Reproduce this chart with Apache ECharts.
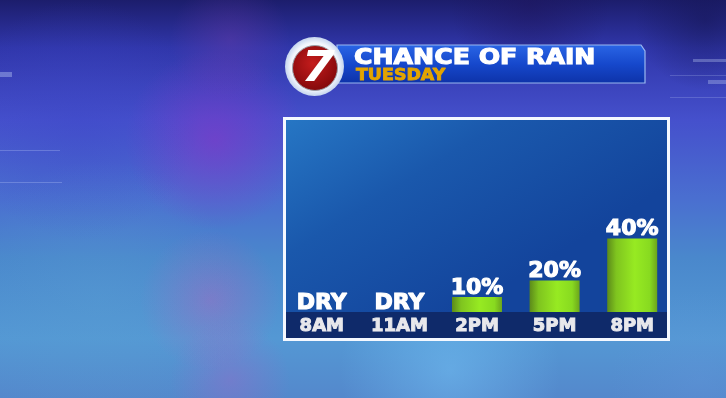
<!DOCTYPE html>
<html>
<head>
<meta charset="utf-8">
<script src="https://cdn.jsdelivr.net/npm/echarts@6/dist/echarts.min.js"></script>
<style>
html,body{margin:0;padding:0;background:#3a50c0;}
#c{width:726px;height:398px;}
</style>
</head>
<body>
<div id="c"></div>
<script>
// ---- data ----
var categories = ['8AM', '11AM', '2PM', '5PM', '8PM'];
var rainChance = [0, 0, 10, 20, 40];          // printed value (%)
var barLevel   = [0, 0, 10, 21, 49];          // drawn bar height
var titleText = 'CHANCE OF RAIN';
var subtitleText = 'TUESDAY';

var chart = echarts.init(document.getElementById('c'), null, {renderer: 'canvas'});
var G = echarts.graphic;
var FONT = 'DejaVu Sans';

function blob(cx, cy, r, color) {
  return {
    type: 'circle', shape: {cx: cx, cy: cy, r: r}, silent: true,
    style: {fill: new G.RadialGradient(0.5, 0.5, 0.5, [
      {offset: 0, color: color}, {offset: 1, color: color.replace(/[\d.]+\)$/, '0)')}
    ])}
  };
}
function hline(x, y, w, h, a) {
  return {type: 'rect', shape: {x: x, y: y, width: w, height: h}, silent: true,
    style: {fill: 'rgba(210,225,255,' + a + ')'}};
}

var barGrad = new G.LinearGradient(0, 0, 1, 0, [
  {offset: 0, color: '#5c8a1a'},
  {offset: 0.18, color: '#7fc41f'},
  {offset: 0.55, color: '#97ea22'},
  {offset: 0.85, color: '#88da20'},
  {offset: 1, color: '#6ca51c'}
]);

var option = {
  animation: false,
  backgroundColor: 'transparent',
  graphic: {
    elements: [
      // background
      {type: 'rect', shape: {x: 0, y: 0, width: 726, height: 398}, silent: true, z: -10,
        style: {fill: new G.LinearGradient(0, 0, 0, 1, [
          {offset: 0, color: '#1c1d6c'},
          {offset: 0.12, color: '#3036aa'},
          {offset: 0.3, color: '#4550cc'},
          {offset: 0.5, color: '#4a6fd0'},
          {offset: 0.65, color: '#4a88cc'},
          {offset: 0.85, color: '#5498d4'},
          {offset: 1, color: '#5488cc'}
        ])}},
      blob(215, 140, 90, 'rgba(140,50,200,0.55)'),
      blob(230, 40, 60, 'rgba(120,60,170,0.35)'),
      blob(80, 120, 120, 'rgba(60,70,200,0.35)'),
      blob(210, 300, 70, 'rgba(190,90,190,0.4)'),
      blob(230, 380, 60, 'rgba(180,90,200,0.3)'),
      blob(450, 370, 110, 'rgba(120,200,250,0.45)'),
      blob(100, 300, 140, 'rgba(90,160,210,0.3)'),
      blob(700, 380, 90, 'rgba(100,150,220,0.3)'),
      blob(530, 5, 80, 'rgba(30,20,90,0.5)'),
      blob(705, 20, 70, 'rgba(20,20,80,0.5)'),
      // faint hud lines
      hline(0, 72, 12, 5, 0.35),
      hline(0, 150, 60, 1, 0.25),
      hline(0, 182, 62, 1, 0.25),
      hline(693, 59, 33, 3, 0.3),
      hline(708, 80, 18, 4, 0.3),
      hline(670, 75, 56, 1, 0.2),
      hline(670, 97, 56, 1, 0.2),
      // header bar
      {type: 'polygon', silent: true,
        shape: {points: [[337, 45], [641, 45], [645, 51], [645, 83], [337, 83]]},
        style: {fill: new G.LinearGradient(0, 0, 0, 1, [
          {offset: 0, color: '#2a66e6'},
          {offset: 0.5, color: '#1648cc'},
          {offset: 1, color: '#0d32a8'}
        ]), stroke: '#9ab8f0', lineWidth: 1.2}},
      {type: 'text', x: 354, y: 58.5, scaleX: 1.2, silent: true,
        style: {text: titleText, fill: '#ffffff', font: 'bold 21px "DejaVu Sans"',
          stroke: '#ffffff', lineWidth: 1.1,
          textAlign: 'left', textVerticalAlign: 'middle'}},
      {type: 'text', x: 356, y: 76, scaleX: 1.16, silent: true,
        style: {text: subtitleText, fill: '#e3a400', font: 'bold 15px "DejaVu Sans"',
          stroke: '#e3a400', lineWidth: 0.8,
          textAlign: 'left', textVerticalAlign: 'middle'}},
      // logo
      {type: 'circle', shape: {cx: 314.5, cy: 66.5, r: 29.5}, silent: true,
        style: {fill: new G.RadialGradient(0.5, 0.5, 0.5, [
          {offset: 0, color: '#ffffff'}, {offset: 0.8, color: '#f2f6fc'}, {offset: 1, color: '#c4d4ee'}
        ])}},
      {type: 'circle', shape: {cx: 315, cy: 68, r: 22.5}, silent: true,
        style: {fill: new G.RadialGradient(0.45, 0.4, 0.6, [
          {offset: 0, color: '#c41c1c'}, {offset: 1, color: '#84090b'}
        ]), stroke: '#9aa0a8', lineWidth: 1}},
      {type: 'text', x: 318, y: 70, scaleX: 1.15, silent: true,
        style: {text: '7', fill: '#ffffff', font: 'italic bold 42px "DejaVu Sans"',
          textAlign: 'center', textVerticalAlign: 'middle'}},
      // chart panel
      {type: 'rect', shape: {x: 283, y: 117, width: 387, height: 224}, silent: true,
        style: {fill: '#f4f8ff'}},
      {type: 'rect', shape: {x: 286, y: 120, width: 381, height: 218}, silent: true,
        style: {fill: new G.LinearGradient(0, 0, 0.35, 1, [
          {offset: 0, color: '#2676c4'},
          {offset: 0.45, color: '#1a58ac'},
          {offset: 1, color: '#13449c'}
        ])}},
      {type: 'rect', shape: {x: 286, y: 312, width: 381, height: 26}, silent: true,
        style: {fill: '#0f2a6a'}}
    ]
  },
  grid: {left: 283, width: 388, top: 120, bottom: 86, containLabel: false},
  xAxis: {
    type: 'category', data: categories,
    axisLine: {show: false}, axisTick: {show: false}, splitLine: {show: false},
    axisLabel: {color: '#e8e8ec', fontSize: 18, fontWeight: 'bold', fontFamily: FONT, margin: 5,
      lineHeight: 18, textBorderColor: '#e8e8ec', textBorderWidth: 1}
  },
  yAxis: {type: 'value', min: 0, max: 128, show: false, splitLine: {show: false}},
  series: [{
    type: 'bar', data: barLevel, barWidth: 50, z: 5,
    itemStyle: {color: barGrad},
    label: {
      show: true, position: 'top', distance: -2,
      color: '#ffffff', fontSize: 22, fontWeight: 'bold', fontFamily: FONT,
      textBorderColor: '#ffffff', textBorderWidth: 1.2,
      formatter: function (p) {
        var v = rainChance[p.dataIndex];
        return v === 0 ? 'DRY' : v + '%';
      }
    }
  }]
};
chart.setOption(option);
</script>
</body>
</html>
